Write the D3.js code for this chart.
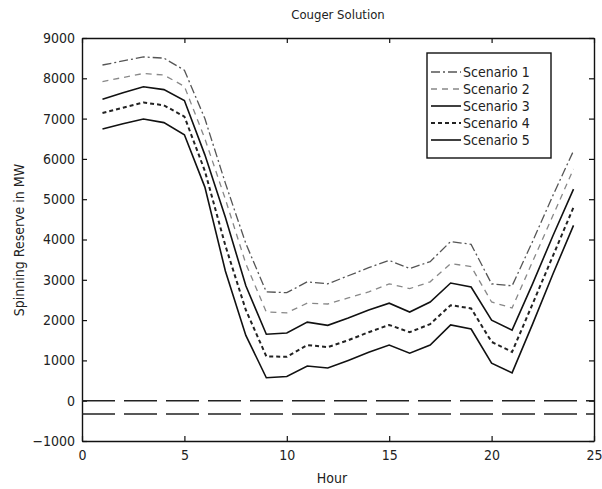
<!DOCTYPE html>
<html><head><meta charset="utf-8">
<script src="https://cdn.jsdelivr.net/npm/d3@7"></script>
<style>
body{margin:0;background:#fff;}
svg text{font-family:"DejaVu Sans Condensed","Liberation Sans Narrow","Arial Narrow",sans-serif;font-stretch:condensed;fill:#222;}
</style></head>
<body>
<svg id="chart" width="602" height="489"></svg>
<script>
const hours = d3.range(1, 25);
const scenarioNames = ["Scenario 1","Scenario 2","Scenario 3","Scenario 4","Scenario 5"];
const scenario1 = [8330,8430,8530,8500,8200,7000,5400,3900,2700,2680,2950,2900,3100,3300,3480,3280,3450,3950,3880,2900,2850,3950,5100,6200];
const scenario2 = [7920,8020,8120,8080,7800,6500,5000,3400,2200,2180,2420,2400,2550,2700,2900,2780,2950,3400,3330,2450,2300,3450,4600,5750];
const scenario3 = [7480,7640,7790,7720,7450,6100,4550,2850,1650,1680,1950,1870,2050,2250,2420,2200,2450,2920,2820,2000,1750,2900,4100,5250];
const scenario4 = [7140,7270,7400,7330,7050,5700,3850,2250,1100,1090,1380,1330,1500,1700,1880,1700,1900,2370,2290,1460,1210,2400,3600,4800];
const scenario5 = [6740,6870,6990,6900,6600,5300,3220,1620,570,600,860,810,1000,1200,1380,1180,1380,1880,1780,930,690,1900,3150,4350];
const refLines = [0, -330];
const xTicks = [0,5,10,15,20,25];
const yTicks = [-1000,0,1000,2000,3000,4000,5000,6000,7000,8000,9000];

const series = [scenario1, scenario2, scenario3, scenario4, scenario5];
const styles = [
  {stroke:"#555", width:1.3, dash:"9,3,2,3"},
  {stroke:"#888", width:1.3, dash:"6,5"},
  {stroke:"#111", width:1.6, dash:null},
  {stroke:"#222", width:2.0, dash:"4,3"},
  {stroke:"#111", width:1.6, dash:null}
];
const FONT = '"DejaVu Sans Condensed","Liberation Sans Narrow","Arial Narrow",sans-serif';

const svg = d3.select("#chart");
const L = 82, R = 594, T = 38, B = 441;
const x = d3.scaleLinear().domain([0,25]).range([L,R]);
const y = d3.scaleLinear().domain([-1000,9000]).range([B,T]);

const fs = 14;
const fmt = d3.format("d");
const xAxisB = d3.axisBottom(x).tickValues(xTicks).tickFormat(fmt).tickSizeInner(-5).tickSizeOuter(0).tickPadding(9);
const xAxisT = d3.axisTop(x).tickValues(xTicks).tickSizeInner(-5).tickSizeOuter(0).tickFormat("");
const yAxisL = d3.axisLeft(y).tickValues(yTicks).tickFormat(fmt).tickSizeInner(-5).tickSizeOuter(0).tickPadding(7);
const yAxisR = d3.axisRight(y).tickValues(yTicks).tickSizeInner(-5).tickSizeOuter(0).tickFormat("");

function styleAxis(g){
  g.select(".domain").attr("stroke","#111").attr("stroke-width",1.4);
  g.selectAll(".tick line").attr("stroke","#111").attr("stroke-width",1.2);
  g.selectAll(".tick text").attr("font-size",fs).attr("fill","#222")
    .style("font-family",FONT).style("font-stretch","condensed");
}
svg.append("g").attr("transform",`translate(0,${B})`).call(xAxisB).call(styleAxis);
svg.append("g").attr("transform",`translate(0,${T})`).call(xAxisT).call(styleAxis);
svg.append("g").attr("transform",`translate(${L},0)`).call(yAxisL).call(styleAxis);
svg.append("g").attr("transform",`translate(${R},0)`).call(yAxisR).call(styleAxis);

svg.selectAll(".ref").data(refLines).enter().append("line")
  .attr("x1",x(0)).attr("x2",x(25))
  .attr("y1",d=>y(d)).attr("y2",d=>y(d))
  .attr("stroke","#222").attr("stroke-width",1.4).attr("stroke-dasharray","33,9");

const line = d3.line().x((d,i)=>x(hours[i])).y(d=>y(d));
series.forEach((s,i)=>{
  svg.append("path").datum(s).attr("d",line).attr("fill","none")
    .attr("stroke",styles[i].stroke).attr("stroke-width",styles[i].width)
    .attr("stroke-dasharray",styles[i].dash);
});

const lg = svg.append("g");
lg.append("rect").attr("x",427).attr("y",53).attr("width",124).attr("height",105)
  .attr("fill","#fff").attr("stroke","#111").attr("stroke-width",1.4);
scenarioNames.forEach((n,i)=>{
  const yy = 72 + i*17;
  lg.append("line").attr("x1",431).attr("x2",461).attr("y1",yy).attr("y2",yy)
    .attr("stroke",styles[i].stroke).attr("stroke-width",styles[i].width)
    .attr("stroke-dasharray",styles[i].dash);
  lg.append("text").attr("x",463).attr("y",yy).attr("dy","0.36em")
    .attr("font-size",14).text(n);
});

svg.append("text").attr("x",338).attr("y",19).attr("text-anchor","middle")
  .attr("font-size",13).text("Couger Solution");
svg.append("text").attr("x",332).attr("y",483).attr("text-anchor","middle")
  .attr("font-size",14).text("Hour");
svg.append("text").attr("transform","translate(24,240) rotate(-90)")
  .attr("text-anchor","middle").attr("font-size",14).text("Spinning Reserve in MW");
</script>
</body></html>
